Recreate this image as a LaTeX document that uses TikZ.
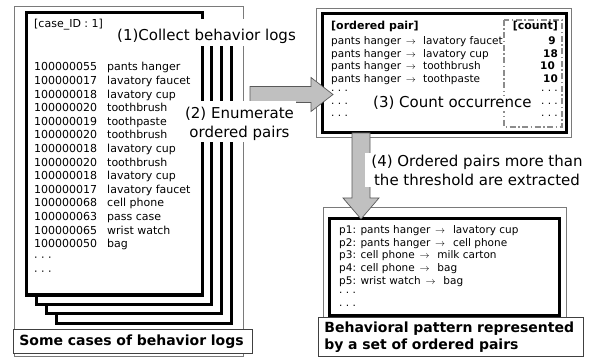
\documentclass[tikz,border=0pt]{standalone}
\usepackage{fontspec}
\setmainfont{DejaVu Sans}
\definecolor{arrowgray}{HTML}{C0C0C0}
\definecolor{framegray}{HTML}{7A7A7A}
\newcommand\mdots{·\hspace{0.32em}·\hspace{0.32em}·}
\newcommand\parr{\hspace{0.45em}{\fontsize{10}{10}\selectfont$\rightarrow$}\hspace{0.75em}}
\begin{document}
\begin{tikzpicture}[x=1pt,y=-1pt,
  frame/.style={draw=framegray, line width=1pt},
  page/.style={draw=black, line width=3pt, fill=white},
  thickbox/.style={draw=black, line width=3pt, fill=white},
  cntbox/.style={draw=black!45, line width=1.6pt, dash pattern=on 6pt off 2.5pt on 1.5pt off 2.5pt},
  bigarrow/.style={fill=arrowgray, draw=black!65, line width=0.7pt, line join=miter},
  lbl/.style={font=\fontsize{15}{19}\selectfont, fill=white, inner xsep=2pt, inner ysep=2pt},
  logtxt/.style={font=\fontsize{11}{13}\selectfont, inner sep=0pt, anchor=base west},
  rowtxt/.style={font=\fontsize{10.5}{12}\selectfont, inner sep=0pt, anchor=base west},
  cnt/.style={font=\fontsize{10.5}{12}\selectfont\bfseries, inner sep=0pt, anchor=base east},
  dotsr/.style={font=\fontsize{10.5}{12}\selectfont, inner sep=0pt, anchor=base east},
  hdr/.style={font=\fontsize{11}{13}\selectfont\bfseries, inner sep=0pt},
  caption/.style={draw=black!75, line width=0.8pt, fill=white,
    font=\fontsize{14}{17}\selectfont\bfseries, inner xsep=6pt, inner ysep=0pt, align=left}
]
\useasboundingbox (0,0) rectangle (600,358);

% ---------- left: behaviour logs ----------
\draw[frame] (14,7) rectangle (243,356);
\draw[page] (56,41) rectangle (231,323);
\draw[page] (46,31.5) rectangle (221,313.5);
\draw[page] (36,22) rectangle (211,304);
\draw[page] (26,13) rectangle (202,295);

\node[logtxt] (caseid) at (34,28) {[case\_ID : 1]};
\foreach \num/\item [count=\i] in {
  100000055/pants hanger, 100000017/lavatory faucet, 100000018/lavatory cup,
  100000020/toothbrush, 100000019/toothpaste, 100000020/toothbrush,
  100000018/lavatory cup, 100000020/toothbrush, 100000018/lavatory cup,
  100000017/lavatory faucet, 100000068/cell phone, 100000063/pass case,
  100000065/wrist watch, 100000050/bag} {
  \node[logtxt] (num\i) at (34,{71+13.6*(\i-1)}) {\num};
  \node[logtxt] (item\i) at (107,{71+13.6*(\i-1)}) {\item};
}
\node[logtxt] (ldots1) at (34,261.6) {\mdots};
\node[logtxt] (ldots2) at (34,275.2) {\mdots};

\node[lbl, anchor=base, text height=21pt, text depth=4pt, inner ysep=1pt] (lab1) at (206.5,41) {(1)Collect behavior logs};

\node[caption, anchor=north west, text width=227pt, minimum height=24pt] (capL) at (13,329) {Some cases of behavior logs};

% ---------- top right: ordered pairs with counts ----------
\draw[frame] (316,9) rectangle (571,138);
\draw[thickbox] (322,14) rectangle (566,133);
\draw[cntbox] (504,20) rectangle (562,127);

\node[hdr, anchor=base west] (hpair) at (331,30) {[ordered pair]};
\node[hdr, anchor=base east] (hcount) at (558,30) {[count]};
\foreach \second/\c [count=\i] in {lavatory faucet/9, lavatory cup/18, toothbrush/10, toothpaste/10} {
  \node[rowtxt] (pair\i) at (331,{45+12.5*(\i-1)}) {\makebox[92pt][l]{pants hanger\parr}\second};
}
\node[cnt] (c1) at (556,45) {9};
\node[cnt] (c2) at (558,57.5) {18};
\node[cnt] (c3) at (555,70) {10};
\node[cnt] (c4) at (558,82.5) {10};
\foreach \i in {1,2,3} {
  \node[rowtxt] (pdl\i) at (331,{95+12.5*(\i-1)}) {\mdots};
  \node[dotsr] (pdr\i) at (558,{95+12.5*(\i-1)}) {\mdots};
}
\node[font=\fontsize{15}{19}\selectfont, fill=white, inner sep=1pt, anchor=base west] (lab3) at (372,108) {(3) Count occurrence};

% ---------- arrow (2) ----------
\coordinate (a2s) at (250,94.5);
\coordinate (a2e) at (333,94.5);
\filldraw[bigarrow] (a2s |- 0,86.5) -- (311,86.5) -- (311,77.5) -- (a2e)
  -- (311,111.5) -- (311,102.5) -- (a2s |- 0,102.5) -- cycle;
\node[lbl, align=center, anchor=north] (lab2) at (239.5,101)
  {\rule{0pt}{15pt}(2) Enumerate\\ordered pairs};

% ---------- bottom right: behavioural pattern ----------
\draw[frame] (323,208) rectangle (566,330);
\draw[thickbox] (329,219) rectangle (559,315);
\foreach \txt [count=\i] in {
  p1: pants hanger\parr lavatory cup,
  p2: pants hanger\parr cell phone,
  p3: cell phone\parr milk carton,
  p4: cell phone\parr bag,
  p5: wrist watch\parr bag} {
  \node[rowtxt] (pat\i) at (339,{234+12.5*(\i-1)}) {\txt};
}
\node[rowtxt] (patd1) at (339,296.5) {\mdots};
\node[rowtxt] (patd2) at (339,309) {\mdots};

\node[caption, anchor=north west, text width=253pt, minimum height=39pt] (capR) at (318,317)
  {Behavioral pattern represented\\by a set of ordered pairs};

% ---------- arrow (4) ----------
\coordinate (a4s) at (361,133);
\coordinate (a4e) at (361,219);
\filldraw[bigarrow] (352,0 |- a4s) -- (370,0 |- a4s) -- (370,198) -- (379,198) -- (a4e)
  -- (343,198) -- (352,198) -- cycle;
\node[lbl, align=center, inner xsep=6pt] (lab4) at (477,170)
  {(4) Ordered pairs more than\\the threshold are extracted};
\end{tikzpicture}
\end{document}
